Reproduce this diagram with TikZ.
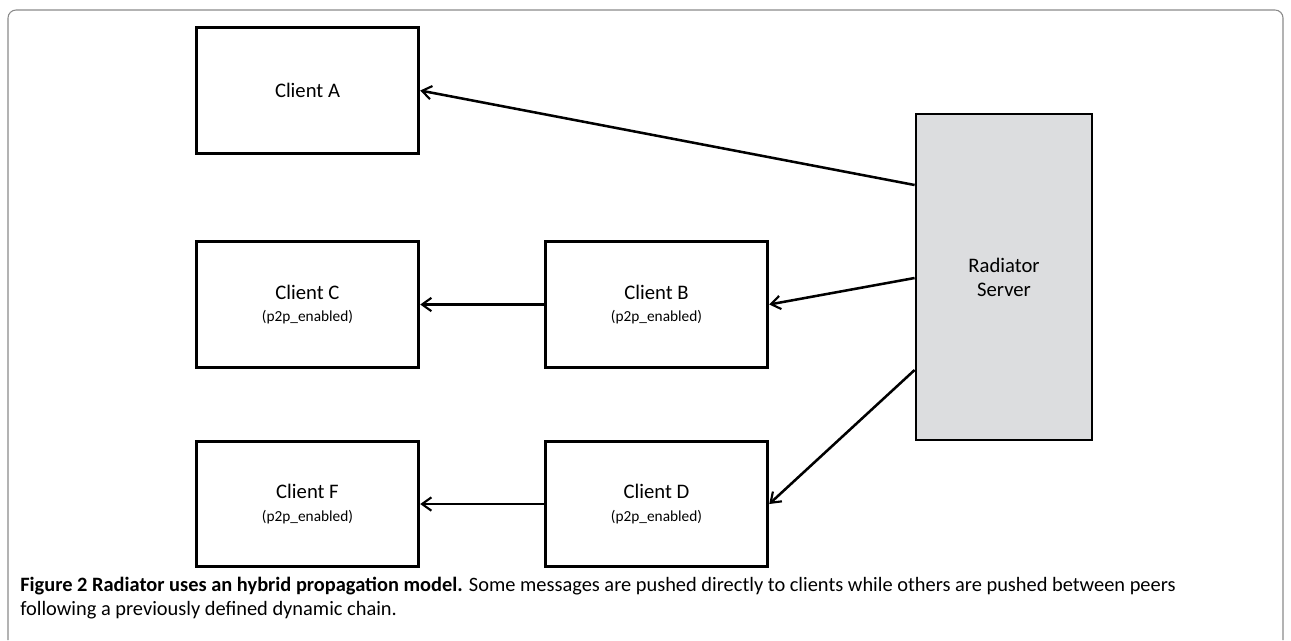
\documentclass[tikz,border=0pt]{standalone}
\usepackage{fontspec}
\setmainfont{Carlito}
\usetikzlibrary{calc,arrows.meta,positioning}

\definecolor{srvgray}{HTML}{DCDDDF}
\definecolor{framegray}{HTML}{8A8A8A}
\newcommand{\peertag}{{\fontsize{11.5}{13}\selectfont (p2p\_enabled)}}

\begin{document}
\begin{tikzpicture}[x=0.75pt, y=-0.75pt,
      every node/.append style={align=center, inner sep=0pt},
      client/.style={draw, line width=2.1pt, minimum width=167pt, minimum height=94pt, font=\fontsize{15.5}{18}\selectfont},
      push/.style={line width=1.9pt, -{Straight Barb[length=7pt, width=10pt, line width=1.6pt]}}]
    \useasboundingbox (0,0) rectangle (1291,640);
    % frame
    \draw[framegray, line width=0.8pt, rounded corners=6pt] (8,640) -- (8,10) -- (1283,10) -- (1283,640);
    % clients
    \node (A) [client] at (307.5,90.5) {Client A};
    \node (C) [client] at (307.5,304.5) {Client C\\[-1pt]\peertag};
    \node (B) [client] at (656.5,304.5) {Client B\\[-1pt]\peertag};
    \node (F) [client] at (307.5,504) {Client F\\[-1pt]\peertag};
    \node (D) [client] at (656.5,504) {Client D\\[-1pt]\peertag};
    \node (SRV) [client, fill=srvgray, minimum width=132pt, minimum height=244.5pt] at (1004,277) {Radiator\\Server};
    % pushes
    \draw[push] ($(SRV.west)+(0,-92)$) -- (A.east);
    \draw[push] ($(SRV.west)+(0,1)$) -- (B.east);
    \draw[push] ($(SRV.west)+(0,93)$) -- (D.east);
    \draw[push] (B.west) -- (C.east);
    \draw[push] (D.west) -- (F.east);
    % caption
    \node (CAP) [anchor=north west, align=left, font=\fontsize{15.3}{18}\selectfont] at (20,577)
      {\textbf{Figure 2 Radiator uses an hybrid propagation model.} Some messages are pushed directly to clients while others are pushed between peers\\
       following a previously defined dynamic chain.};
  \end{tikzpicture}
\end{document}
